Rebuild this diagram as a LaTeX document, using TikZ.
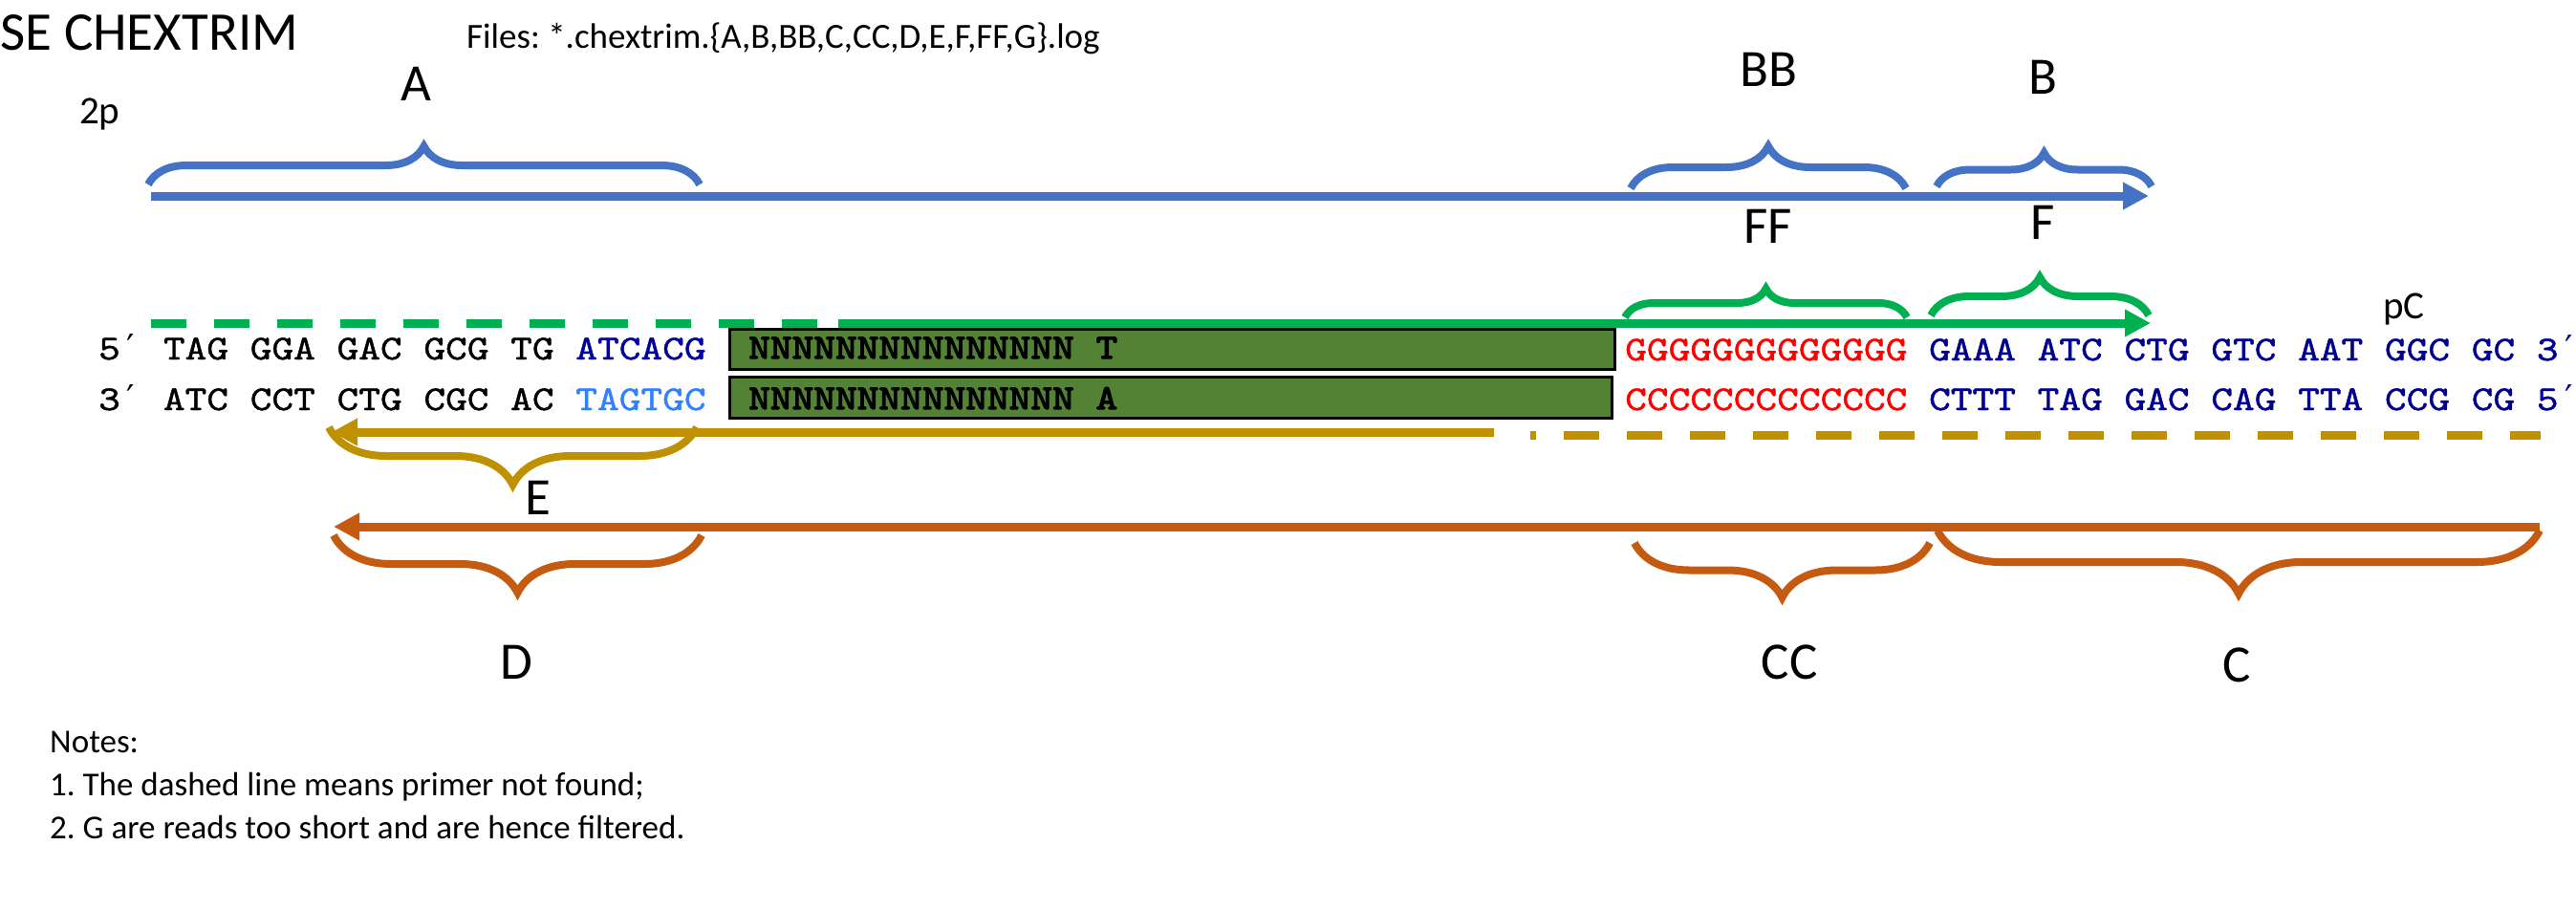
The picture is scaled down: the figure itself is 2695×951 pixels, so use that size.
\documentclass[tikz,border=0pt]{standalone}
\usepackage{fontspec}
\setmainfont{Carlito}
\newfontfamily\seqf{lmmono10-regular.otf}[FakeStretch=1.185,FakeBold=1.2]
\newfontfamily\seqbf{lmmono10-regular.otf}[FakeStretch=1.185,FakeBold=3.5]
\newfontfamily\primef{DejaVu Sans Mono}
\usetikzlibrary{arrows.meta,decorations.pathreplacing}
\definecolor{lblue}{HTML}{4472C4}
\definecolor{lgreen}{HTML}{00B050}
\definecolor{lgold}{HTML}{BF9000}
\definecolor{lorange}{HTML}{C55A11}
\definecolor{boxgreen}{HTML}{548235}
\definecolor{dblue}{HTML}{0000A0}
\definecolor{tblue}{HTML}{3080FF}
\definecolor{nblue}{HTML}{000090}
\definecolor{sred}{HTML}{FF0000}
\newcommand{\pr}{{\primef\fontsize{37}{40}\selectfont ′}}
\begin{document}
\frenchspacing
\begin{tikzpicture}[x=1pt,y=-1pt,
  arr/.style={line width=9pt,-{Triangle[length=27pt,width=27pt]}},
  dashline/.style={line width=9pt,dash pattern=on 37pt off 29pt},
  brc/.style={line width=8pt,decorate,decoration={brace,amplitude=#1pt}},
  brcm/.style={line width=8pt,decorate,decoration={brace,mirror,amplitude=#1pt}},
  lab/.style={font=\fontsize{55}{60}\selectfont,anchor=base,inner sep=0pt},
  small/.style={font=\fontsize{41}{45}\selectfont,anchor=base,inner sep=0pt},
  note/.style={font=\fontsize{35}{40}\selectfont,anchor=base west,inner sep=0pt},
  seq/.style={font=\seqf\fontsize{36.5}{40}\selectfont,anchor=base west,inner sep=0pt},
  seqb/.style={font=\seqbf\fontsize{36.5}{40}\selectfont,anchor=base west,inner sep=0pt},
  seqbox/.style={draw=black,line width=2.5pt,fill=boxgreen,anchor=north west,inner sep=0pt}
]
\useasboundingbox (0,0) rectangle (2695,951);

% titles
\node[font=\fontsize{57}{60}\selectfont,anchor=base west,inner sep=0pt] (title) at (0,52) {SE CHEXTRIM};
\node[note,font=\fontsize{37}{40}\selectfont] (files) at (488,50) {Files: *.chextrim.\{A,B,BB,C,CC,D,E,F,FF,G\}.log};
\node[small,anchor=base west] (twop) at (83,129) {2p};
\node[small] (pc) at (2515,333) {pC};

% labels
\node[lab] (labA) at (435,105) {A};
\node[lab] (labBB) at (1850,90) {BB};
\node[lab] (labB) at (2137,98) {B};
\node[lab] (labFF) at (1850,254) {FF};
\node[lab] (labF) at (2137,250) {F};
\node[lab] (labE) at (563,538) {E};
\node[lab] (labD) at (540,710) {D};
\node[lab] (labCC) at (1872,710) {CC};
\node[lab] (labC) at (2340,713) {C};

% blue arrow
\coordinate (bS) at (158,205);
\coordinate (bE) at (2248,205);
\draw[arr,lblue] (bS) -- (bE);

% green arrow
\coordinate (gD1) at (158,338);
\coordinate (gD2) at (855,338);
\coordinate (gS) at (877,338);
\coordinate (gE) at (2250,338);
\draw[dashline,lgreen] (gD1) -- (gD2);
\draw[arr,lgreen] (gS) -- (gE);

% gold arrow
\coordinate (oS) at (1563,452);
\coordinate (oE) at (347,452);
\coordinate (oD1) at (1601,455);
\coordinate (oD2) at (2658,455);
\draw[arr,lgold] (oS) -- (oE);
\draw[dashline,dash phase=31pt,lgold] (oD1) -- (oD2);

% orange arrow
\coordinate (rS) at (2657,551);
\coordinate (rE) at (349,551);
\draw[arr,lorange] (rS) -- (rE);

% braces
\coordinate (aL) at (155,193);   \coordinate (aR) at (732,193);
\coordinate (bbL) at (1706,197); \coordinate (bbR) at (1994,197);
\coordinate (b1L) at (2026,195); \coordinate (b1R) at (2251,195);
\coordinate (ffL) at (1700,332); \coordinate (ffR) at (1995,332);
\coordinate (f1L) at (2020,330); \coordinate (f1R) at (2248,330);
\coordinate (eL) at (344,447);   \coordinate (eR) at (729,447);
\coordinate (dL) at (349,560);   \coordinate (dR) at (734,560);
\coordinate (ccL) at (1710,568); \coordinate (ccR) at (2019,568);
\coordinate (c1L) at (2027,555); \coordinate (c1R) at (2657,555);
\draw[brc=40,lblue] (aL) -- (aR);
\draw[brc=44,lblue] (bbL) -- (bbR);
\draw[brc=35,lblue] (b1L) -- (b1R);
\draw[brc=30,lgreen] (ffL) -- (ffR);
\draw[brc=40,lgreen] (f1L) -- (f1R);
\draw[brcm=60,lgold] (eL) -- (eR);
\draw[brcm=60,lorange] (dL) -- (dR);
\draw[brcm=57,lorange] (ccL) -- (ccR);
\draw[brcm=66,lorange] (c1L) -- (c1R);

% boxes
\node[seqbox,minimum width=926pt,minimum height=42pt] (box1) at (762,343) {};
\node[seqbox,minimum width=923pt,minimum height=43pt] (box2) at (762,393) {};
\node[seqb] (n1) at (783,375) {NNNNNNNNNNNNNNN T};
\node[seqb] (n2) at (783,428) {NNNNNNNNNNNNNNN A};

% sequences
\node[seq] (s1l) at (103,376) {5\pr{} TAG GGA GAC GCG TG \textcolor{dblue}{ATCACG}};
\node[seq] (s2l) at (103,429) {3\pr{} ATC CCT CTG CGC AC \textcolor{tblue}{TAGTGC}};
\node[seq] (s1r) at (1700,377) {\textcolor{sred}{GGGGGGGGGGGGG} \textcolor{nblue}{GAAA ATC CTG GTC AAT GGC GC 3\pr}};
\node[seq] (s2r) at (1700,429) {\textcolor{sred}{CCCCCCCCCCCCC} \textcolor{nblue}{CTTT TAG GAC CAG TTA CCG CG 5\pr}};

% notes
\node[note] (note0) at (52,787) {Notes:};
\node[note] (note1) at (52,832) {1. The dashed line means primer not found;};
\node[note] (note2) at (52,877) {2. G are reads too short and are hence filtered.};
\end{tikzpicture}
\end{document}
